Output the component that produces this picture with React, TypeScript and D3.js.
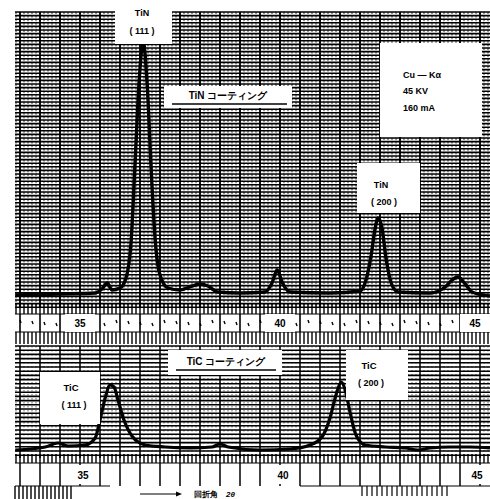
import React from "react";
import * as d3 from "d3";

// 2θ (degrees) and intensity (arb. units)
const tinTheta = [33.38, 34.5, 35.38, 35.55, 35.68, 35.8, 36.0, 36.15, 36.28, 36.38, 36.48, 36.58, 36.68, 36.78, 36.88, 37.0, 37.2, 37.5, 37.8, 38.0, 38.2, 38.45, 39.0, 39.63, 39.8, 39.93, 40.05, 40.25, 41.25, 42.0, 42.15, 42.28, 42.38, 42.45, 42.55, 42.65, 42.78, 42.95, 43.75, 44.13, 44.3, 44.45, 44.63, 44.8, 45.25];
const tinIntensity = [3, 4, 5, 9, 15, 8, 10, 20, 58, 138, 218, 256, 213, 128, 58, 23, 10, 8, 12, 14, 12, 6, 5, 6, 15, 28, 16, 6, 5, 7, 18, 43, 70, 80, 70, 40, 15, 6, 5, 11, 18, 21, 14, 6, 2];

const ticTheta = [33.38, 34.13, 34.45, 34.7, 35.13, 35.38, 35.5, 35.63, 35.75, 35.85, 35.95, 36.1, 36.3, 36.63, 37.13, 37.75, 38.3, 38.5, 38.7, 39.5, 40.25, 40.75, 41.05, 41.25, 41.4, 41.53, 41.63, 41.75, 41.9, 42.13, 42.63, 43.13, 43.45, 43.75, 44.25, 44.75, 45.25];
const ticIntensity = [2, 5, 9, 6, 7, 14, 32, 54, 67, 65, 52, 32, 16, 7, 5, 4, 5, 8, 5, 2, 3, 7, 15, 34, 57, 70, 62, 40, 17, 7, 5, 4, 2, 4, 5, 5, 4];

const axisTicks = [35, 40, 45];
const axisLabels = ["35", "40", "45"];

const W = 490;
const H = 499;

export default function App() {
  const x = d3.scaleLinear().domain([35, 45]).range([80, 480]);
  const yTop = d3.scaleLinear().domain([0, 260]).range([298, 38]);
  const yBot = d3.scaleLinear().domain([0, 70]).range([452, 382]);

  const lineTop = d3
    .line<number>()
    .x((_, i) => x(tinTheta[i]))
    .y((d) => yTop(d))
    .curve(d3.curveMonotoneX);
  const lineBot = d3
    .line<number>()
    .x((_, i) => x(ticTheta[i]))
    .y((d) => yBot(d))
    .curve(d3.curveMonotoneX);

  const gridLeft = 15;
  const gridRight = 490;

  // chart-paper grid: major every 0.5°, minor every 0.1°
  const minor = d3.range(33.4, 45.3, 0.1).map((v) => x(v)).filter((p) => p >= gridLeft && p <= gridRight);
  const major = d3.range(33.5, 45.3, 0.5).map((v) => x(v)).filter((p) => p >= gridLeft && p <= gridRight);

  const topH = d3.range(12, 310, 3.6);
  const botH = d3.range(346, 456, 4.2);

  const font = "'Liberation Sans', Arial, sans-serif";

  const Box = ({ x0, y0, w, h }: { x0: number; y0: number; w: number; h: number }) => (
    <rect x={x0} y={y0} width={w} height={h} fill="#fff" />
  );

  return (
    <svg width={W} height={H} style={{ position: "absolute", left: 0, top: 0, background: "#fff" }}>
      <rect width={W} height={H} fill="#fff" />
      {/* top grid */}
      <g stroke="#000">
        {topH.map((p, i) => (
          <line key={"th" + i} x1={gridLeft} x2={gridRight} y1={p} y2={p} strokeWidth={1.6} />
        ))}
        {minor.map((p, i) => (
          <line key={"tm" + i} x1={p} x2={p} y1={12} y2={308} strokeWidth={0.8} strokeDasharray="2 1.6" />
        ))}
        {major.map((p, i) => (
          <line key={"tM" + i} x1={p} x2={p} y1={12} y2={308} strokeWidth={1.8} />
        ))}
      </g>
      {/* top axis band */}
      <rect x={gridLeft} y={308} width={gridRight - gridLeft} height={36} fill="#fff" />
      <g stroke="#000">
        {minor.map((p, i) => (
          <line key={"ba" + i} x1={p} x2={p} y1={304} y2={314} strokeWidth={1.4} />
        ))}
        {minor.map((p, i) => (
          <line key={"bb" + i} x1={p} x2={p} y1={332} y2={344} strokeWidth={1.4} />
        ))}
        <line x1={gridLeft} x2={gridRight} y1={314} y2={314} strokeWidth={1.2} />
        <line x1={gridLeft} x2={gridRight} y1={332} y2={332} strokeWidth={1.2} />
        {major.map((p, i) => (
          <line key={"bM" + i} x1={p} x2={p} y1={314} y2={332} strokeWidth={1.6} />
        ))}
        {minor.filter((_, i) => i % 3 === 1).map((p, i) => (
          <line key={"bn" + i} x1={p} x2={p + 1} y1={320 + (i % 4)} y2={323 + (i % 4)} strokeWidth={1.4} />
        ))}
      </g>
      {axisTicks.map((t, i) => (
        <g key={"tl" + i}>
          <rect x={x(t) - (i === 2 ? 20 : 15)} y={314} width={i === 2 ? 30 : 30} height={18} fill="#fff" />
          <text x={x(t) - (i === 2 ? 5 : 0)} y={327} fontSize={10} fontWeight="bold" fontFamily={font} textAnchor="middle">
            {axisLabels[i]}
          </text>
        </g>
      ))}

      {/* bottom grid */}
      <g stroke="#000">
        {botH.map((p, i) => (
          <line key={"bh" + i} x1={gridLeft} x2={gridRight} y1={p} y2={p} strokeWidth={1.6} />
        ))}
        {major.map((p, i) => (
          <line key={"bV" + i} x1={p} x2={p} y1={346} y2={458} strokeWidth={1.5} />
        ))}
        {minor.map((p, i) => (
          <line key={"bv" + i} x1={p} x2={p} y1={346} y2={458} strokeWidth={0.6} strokeDasharray="1.5 2.5" />
        ))}
      </g>
      {/* bottom axis band */}
      <rect x={gridLeft} y={458} width={gridRight - gridLeft} height={28} fill="#fff" />
      <g stroke="#000">
        {minor.map((p, i) => (
          <line key={"bt" + i} x1={p} x2={p} y1={454} y2={463} strokeWidth={1.4} />
        ))}
        <line x1={gridLeft} x2={gridRight} y1={463} y2={463} strokeWidth={1.2} />
        {major.map((p, i) => (
          <line key={"bl" + i} x1={p} x2={p} y1={463} y2={486} strokeWidth={1.5} />
        ))}
        <line x1={gridLeft} x2={110} y1={486} y2={486} strokeWidth={1.2} />
        <line x1={300} x2={gridRight} y1={486} y2={486} strokeWidth={1.2} />
        {d3.range(15, 75, 4).map((p, i) => (
          <line key={"bz" + i} x1={p} x2={p} y1={486} y2={499} strokeWidth={1.4} />
        ))}
        {d3.range(362, 450, 5).map((p, i) => (
          <line key={"bq" + i} x1={p} x2={p} y1={486} y2={496} strokeWidth={1.2} />
        ))}
      </g>
      {axisTicks.map((t, i) => (
        <g key={"bl" + i}>
          <rect x={x(t) - 16} y={465} width={i === 2 ? 24 : 34} height={19} fill="#fff" />
          <text x={x(t) + (i === 2 ? -3 : 3)} y={479} fontSize={10} fontWeight="bold" fontFamily={font} textAnchor="middle">
            {axisLabels[i]}
          </text>
        </g>
      ))}

      {/* curves */}
      <path d={lineTop(tinIntensity) ?? ""} fill="none" stroke="#000" strokeWidth={3.4} strokeLinejoin="round" />
      <path d={lineBot(ticIntensity) ?? ""} fill="none" stroke="#000" strokeWidth={3.2} strokeLinejoin="round" />

      {/* label boxes */}
      <Box x0={115} y0={0} w={57} h={44} />
      <text x={142} y={16} fontSize={9} fontWeight="bold" fontFamily={font} textAnchor="middle">TiN</text>
      <text x={142} y={34} fontSize={9} fontWeight="bold" fontFamily={font} textAnchor="middle">( 111 )</text>

      <Box x0={164} y0={86} w={128} h={22} />
      <text x={228} y={99} fontSize={10} fontWeight="bold" fontFamily={font} textAnchor="middle">TiN コーティング</text>
      <line x1={172} x2={287} y1={104} y2={104} stroke="#000" strokeWidth={1.5} />

      <Box x0={380} y0={43} w={102} h={94} />
      <text x={403} y={78} fontSize={9} fontWeight="bold" fontFamily={font}>Cu — Kα</text>
      <text x={403} y={94} fontSize={9} fontWeight="bold" fontFamily={font}>45   KV</text>
      <text x={403} y={111} fontSize={9} fontWeight="bold" fontFamily={font}>160   mA</text>

      <Box x0={357} y0={163} w={63} h={50} />
      <text x={381} y={188} fontSize={9} fontWeight="bold" fontFamily={font} textAnchor="middle">TiN</text>
      <text x={384} y={205} fontSize={9} fontWeight="bold" fontFamily={font} textAnchor="middle">( 200 )</text>

      <Box x0={168} y0={350} w={114} h={25} />
      <text x={226} y={365} fontSize={10} fontWeight="bold" fontFamily={font} textAnchor="middle">TiC コーティング</text>
      <line x1={176} x2={276} y1={370} y2={370} stroke="#000" strokeWidth={1.5} />

      <Box x0={40} y0={372} w={60} h={52} />
      <text x={71} y={391} fontSize={9.5} fontWeight="bold" fontFamily={font} textAnchor="middle">TiC</text>
      <text x={74} y={408} fontSize={9} fontWeight="bold" fontFamily={font} textAnchor="middle">( 111 )</text>

      <Box x0={346} y0={350} w={62} h={50} />
      <text x={369} y={369} fontSize={9.5} fontWeight="bold" fontFamily={font} textAnchor="middle">TiC</text>
      <text x={371} y={386} fontSize={9} fontWeight="bold" fontFamily={font} textAnchor="middle">( 200 )</text>

      {/* x-axis title */}
      <rect x={120} y={486} width={180} height={13} fill="#fff" />
      <line x1={140} x2={178} y1={494} y2={494} stroke="#000" strokeWidth={1} />
      <path d="M176,491.5 L182,494 L176,496.5 Z" fill="#000" />
      <text x={194} y={497} fontSize={8} fontFamily={font} fontWeight="bold">回折角</text>
      <text x={226} y={497} fontSize={8} fontFamily={font} fontStyle="italic" fontWeight="bold">2θ</text>
    </svg>
  );
}
